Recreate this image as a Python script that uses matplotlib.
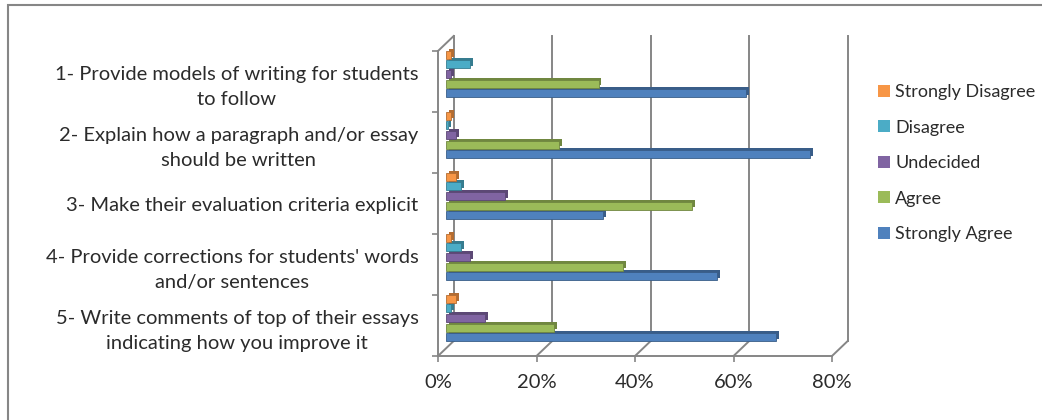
import matplotlib.pyplot as plt
from matplotlib.patches import Patch, Rectangle
import numpy as np

# survey answers, share of teachers per statement (%)
statements = ["1- Provide models of writing for students\nto follow",
              "2- Explain how a paragraph and/or essay\nshould be written",
              "3- Make their evaluation criteria explicit",
              "4- Provide corrections for students' words\nand/or sentences",
              "5- Write comments of top of their essays\nindicating how you improve it"]
strongly_disagree = [1, 1, 2, 1, 2]
disagree = [5, 0.5, 3, 3, 1]
undecided = [1, 2, 12, 5, 8]
agree = [31, 23, 50, 36, 22]
strongly_agree = [61, 74, 32, 55, 67]
xticks = [0, 20, 40, 60, 80]

series = [("Strongly Disagree", strongly_disagree, "#F79646"),
          ("Disagree", disagree, "#4BACC6"),
          ("Undecided", undecided, "#8064A2"),
          ("Agree", agree, "#9BBB59"),
          ("Strongly Agree", strongly_agree, "#4F81BD")]

plt.rcParams['font.family'] = ['Lato', 'DejaVu Sans']
grid_col = "#868686"
text_col = "#2b2b2b"

W, H = 1042, 420
fig = plt.figure(figsize=(W / 100, H / 100), dpi=100)
ax = fig.add_axes([438 / W, (H - 356) / H, (832 - 438) / W, (356 - 51) / H])
ax.set_xlim(0, 80)
ax.set_ylim(4.5, -0.5)

# depth of the fake 3d box in data units
DX = 15.7 * 80 / (832 - 438)
DY = -15 * 5 / (356 - 51)

# back wall gridlines + floor diagonals
for v in xticks:
    ax.plot([v + DX, v + DX], [4.5 + DY, -0.5 + DY], color=grid_col, lw=1.4, clip_on=False, zorder=1)
    ax.plot([v, v + DX], [4.5, 4.5 + DY], color=grid_col, lw=1.4, clip_on=False, zorder=1)
ax.plot([0, DX], [-0.5, -0.5 + DY], color=grid_col, lw=1.4, clip_on=False, zorder=1)

# bars sit at mid depth, with a darker copy behind for the extrusion
y = np.arange(len(statements))
pitch = 0.158
h = 0.13
ex, ey = 0.6, -0.035
for k, (name, vals, col) in enumerate(series):
    yy = y + (k - 2) * pitch + DY / 2
    dark = tuple(c * 0.72 for c in plt.matplotlib.colors.to_rgb(col))
    ax.barh(yy + ey, vals, height=h, left=DX / 2 + ex, color=dark, zorder=2, clip_on=False)
    ax.barh(yy, vals, height=h, left=DX / 2, color=col, edgecolor=dark, linewidth=0.6,
            zorder=3, clip_on=False, label=name)

for s in ["top", "right"]:
    ax.spines[s].set_visible(False)
for s in ["left", "bottom"]:
    ax.spines[s].set_color(grid_col)
    ax.spines[s].set_linewidth(1.4)

ax.set_yticks(y)
ax.set_yticklabels(statements, fontsize=14.5, color=text_col, multialignment="center", linespacing=1.55)
ax.set_yticks(np.arange(-0.5, 5, 1), minor=True)
ax.tick_params(axis="y", which="major", length=0, pad=14)
ax.tick_params(axis="y", which="minor", length=4, width=1.2, color=grid_col)

ax.set_xticks(xticks)
ax.set_xticklabels([f"{v}%" for v in xticks], fontsize=14.5, color=text_col)
ax.tick_params(axis="x", length=4, width=1.2, color=grid_col, pad=9)

handles = [Patch(facecolor=col, label=name) for name, vals, col in series]
fig.legend(handles=handles, loc="upper left", bbox_to_anchor=(862 / W, 1 - 68 / H),
           frameon=False, fontsize=13, handlelength=0.65, handleheight=0.65,
           handletextpad=0.3, labelspacing=1.08, labelcolor=text_col)

# chart frame
fig.patches.append(Rectangle((8 / W, -0.05), 1.0, 1.05 - 5 / H, transform=fig.transFigure,
                             fill=False, edgecolor=grid_col, linewidth=1.5))

fig.savefig("out.png", dpi=100)
